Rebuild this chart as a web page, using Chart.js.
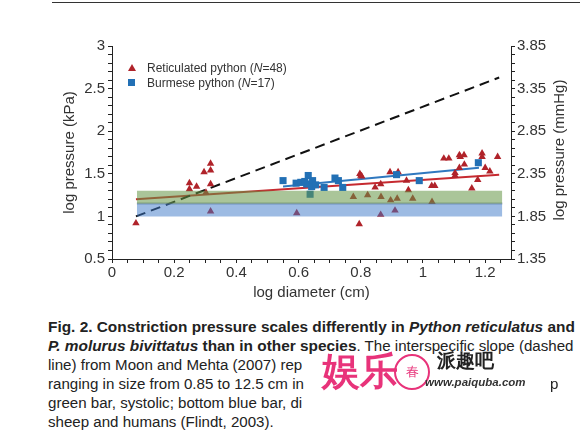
<!DOCTYPE html>
<html>
<head>
<meta charset="utf-8">
<script src="https://cdn.jsdelivr.net/npm/chart.js@4.4.0/dist/chart.umd.min.js"></script>
<style>
  html, body { margin: 0; padding: 0; background: #fff; }
  body { width: 580px; height: 431px; position: relative; overflow: hidden;
         font-family: "Liberation Sans", Arial, sans-serif; color: #222; }
  #topline { position: absolute; left: 52px; right: 0; top: 2px; height: 1px; background: #333; }
  #chart { position: absolute; left: 0; top: 0; }
  .legend { position: absolute; left: 128px; font-size: 12px; color: #333; white-space: nowrap; }
  .legend .mk { position: absolute; left: 0; }
  .legend .tx { position: absolute; left: 19px; top: -7px; }
  .tri { width: 0; height: 0; border-left: 4px solid transparent; border-right: 4px solid transparent;
         border-bottom: 7px solid #b0232a; top: -4px; }
  .sq { width: 7px; height: 7px; background: #2270b5; top: -4px; }
  #ytitle2 { position: absolute; left: 558px; top: 150px; font-size: 15px; color: #333; white-space: nowrap;
             transform: translate(-50%, -50%) rotate(-90deg); }
  #caption { position: absolute; left: 48px; top: 317px; font-size: 15.1px; line-height: 19px;
             white-space: nowrap; color: #222; }
  #caption b { font-size: 15.4px; }
  #wm { position: absolute; left: 320px; top: 350px; width: 250px; height: 60px; }
</style>
</head>
<body>
<div id="topline"></div>
<canvas id="chart" width="580" height="305"></canvas>

<div class="legend" style="top:68px"><div class="mk tri"></div><span class="tx">Reticulated python (<i>N</i>=48)</span></div>
<div class="legend" style="top:83px"><div class="mk sq"></div><span class="tx">Burmese python (<i>N</i>=17)</span></div>
<div id="ytitle2">log pressure (mmHg)</div>

<div id="caption">
<b>Fig. 2. Constriction pressure scales differently in <i>Python reticulatus</i> and</b><br>
<b><i>P. molurus bivittatus</i> than in other species</b>. The interspecific slope (dashed<br>
line) from Moon and Mehta (2007) rep<br>
ranging in size from 0.85 to 12.5 cm in<span style="position:absolute;left:502px">p</span><br>
green bar, systolic; bottom blue bar, di<br>
sheep and humans (Flindt, 2003).
</div>

<div id="wm">
  <span style="position:absolute;left:2px;top:-4px;font-size:38px;color:#e8337a;font-weight:bold;">娱乐</span>
  <span style="position:absolute;left:74px;top:4px;width:32px;height:32px;border:2px solid #e8337a;border-radius:50%;
               font-size:13px;color:#e8337a;text-align:center;line-height:32px;">春</span>
  <span style="position:absolute;left:117px;top:-2px;font-size:19px;font-weight:bold;color:#222;">派趣吧</span>
  <span style="position:absolute;left:105px;top:26px;font-size:11.5px;font-weight:bold;font-style:italic;color:#333;">www.paiquba.com</span>
</div>

<script>
(function () {
  'use strict';

  // reticulated python (red triangles)
  var redX = [0.077, 0.249, 0.249, 0.272, 0.296, 0.317, 0.317, 0.317, 0.302, 0.317, 0.594, 0.795,
              0.797, 0.803, 0.776, 0.822, 0.865, 0.846, 0.864, 0.864, 0.894, 0.896, 0.91, 0.917,
              0.92, 0.947, 0.953, 0.967, 1.028, 1.038, 1.029, 1.067, 1.083, 1.103, 1.103, 1.117,
              1.132, 1.117, 1.133, 1.157, 1.176, 1.19, 1.19, 1.2, 1.215, 1.24, 0.8, 1.12];
  var redY = [0.92, 1.39, 1.32, 1.35, 1.52, 1.54, 1.62, 1.38, 1.28, 1.06, 1.04, 0.91,
              1.5, 1.47, 1.23, 1.25, 1.23, 1.34, 1.38, 1.02, 1.52, 1.19, 1.07, 1.21,
              1.52, 1.42, 1.31, 1.21, 1.36, 1.36, 1.17, 1.68, 1.68, 1.51, 1.48, 1.72,
              1.72, 1.57, 1.61, 1.33, 1.43, 1.74, 1.7, 1.57, 1.53, 1.7, 1.48, 1.7];

  // burmese python (blue squares)
  var blueX = [0.55, 0.592, 0.607, 0.631, 0.626, 0.645, 0.642, 0.637, 0.682, 0.717, 0.728, 0.742,
               0.915, 0.988, 1.178, 0.62, 0.655];
  var blueY = [1.42, 1.39, 1.4, 1.48, 1.38, 1.42, 1.35, 1.26, 1.34, 1.45, 1.42, 1.34,
               1.49, 1.42, 1.63, 1.41, 1.37];

  // fitted lines and interspecific slope
  var redFitX = [0.077, 1.245];
  var redFitY = [1.2, 1.49];
  var blueFitX = [0.55, 1.18];
  var blueFitY = [1.35, 1.57];
  var slopeX = [0.077, 1.245];
  var slopeY = [1.0, 2.63];

  // mammal blood pressure bars
  var barX = [0.08, 1.255];
  var systolic = [1.15, 1.3];
  var diastolic = [1.0, 1.15];

  // tick labels
  var xTicks = [0, 0.2, 0.4, 0.6, 0.8, 1, 1.2];
  var kpaTicks = [0.5, 1, 1.5, 2, 2.5, 3];
  var mmhgTicks = [1.35, 1.85, 2.35, 2.85, 3.35, 3.85];

  function pts(xs, ys) {
    return xs.map(function (x, i) { return { x: x, y: ys[i] }; });
  }

  function withMinor(step, lo, hi) {
    var out = [];
    for (var v = lo; v <= hi + 1e-9; v += step) {
      out.push({ value: Math.round(v * 1000) / 1000 });
    }
    return out;
  }

  function isMajor(list, v) {
    return list.some(function (m) { return Math.abs(m - v) < 1e-6; });
  }

  var tickFont = { family: '"Liberation Sans", Arial, sans-serif', size: 15 };
  var axisColor = '#222';

  var ctx = document.getElementById('chart').getContext('2d');
  new Chart(ctx, {
    type: 'scatter',
    data: {
      datasets: [
        {
          label: 'systolic',
          data: pts(barX, [systolic[1], systolic[1]]),
          showLine: true,
          borderWidth: 0,
          pointRadius: 0,
          backgroundColor: 'rgba(100, 150, 70, 0.55)',
          fill: { value: systolic[0] },
        },
        {
          label: 'diastolic',
          data: pts(barX, [diastolic[1], diastolic[1]]),
          showLine: true,
          borderWidth: 0,
          pointRadius: 0,
          backgroundColor: 'rgba(60, 120, 200, 0.5)',
          fill: { value: diastolic[0] },
        },
        {
          label: 'edge',
          data: pts(barX, [systolic[0], systolic[0]]),
          showLine: true,
          borderWidth: 2,
          borderColor: 'rgba(90, 110, 125, 0.55)',
          pointRadius: 0,
          fill: false,
        },
        {
          label: 'Burmese',
          data: pts(blueX, blueY),
          pointStyle: 'rect',
          pointRadius: 5,
          backgroundColor: '#2270b5',
          borderColor: '#2270b5',
          borderWidth: 0,
        },
        {
          label: 'Reticulated',
          data: pts(redX, redY),
          pointStyle: 'triangle',
          pointRadius: 4.3,
          backgroundColor: '#b0232a',
          borderColor: '#b0232a',
          borderWidth: 0,
        },
        {
          label: 'slope',
          data: pts(slopeX, slopeY),
          showLine: true,
          borderColor: '#111',
          borderWidth: 2,
          borderDash: [10, 6],
          pointRadius: 0,
        },
        {
          label: 'blue fit',
          data: pts(blueFitX, blueFitY),
          showLine: true,
          borderColor: '#2f78bf',
          borderWidth: 2,
          pointRadius: 0,
        },
        {
          label: 'red fit',
          data: pts(redFitX, redFitY),
          showLine: true,
          borderColor: '#c62a30',
          borderWidth: 2,
          pointRadius: 0,
        },
      ],
    },
    options: {
      responsive: false,
      animation: false,
      events: [],
      layout: { padding: { left: 0, right: 0, top: 46, bottom: 0 } },
      plugins: {
        legend: { display: false },
        tooltip: { enabled: false },
      },
      scales: {
        x: {
          type: 'linear',
          min: 0,
          max: 1.283,
          afterBuildTicks: function (s) { s.ticks = withMinor(0.05, 0, 1.25); },
          afterFit: function (s) { s.height = 46; },
          border: { color: axisColor, width: 1 },
          grid: { drawOnChartArea: false, drawTicks: true, tickLength: 4, color: axisColor },
          ticks: {
            autoSkip: false,
            maxRotation: 0,
            padding: 1,
            color: '#333',
            font: tickFont,
            callback: function (v) { return isMajor(xTicks, v) ? String(v) : ''; },
          },
          title: {
            display: true,
            text: 'log diameter (cm)',
            color: '#333',
            font: tickFont,
            padding: { top: 0, bottom: 3 },
          },
        },
        y: {
          position: 'left',
          min: 0.5,
          max: 3,
          afterBuildTicks: function (s) { s.ticks = withMinor(0.1, 0.5, 3); },
          afterFit: function (s) { s.width = 112; },
          border: { color: axisColor, width: 1 },
          grid: { drawOnChartArea: false, drawTicks: true, tickLength: 4, color: axisColor },
          ticks: {
            autoSkip: false,
            padding: 3,
            color: '#333',
            font: tickFont,
            callback: function (v) { return isMajor(kpaTicks, v) ? String(v) : ''; },
          },
          title: {
            display: true,
            text: 'log pressure (kPa)',
            color: '#333',
            font: tickFont,
            padding: { top: 61, bottom: 0 },
          },
        },
        y2: {
          position: 'right',
          min: 1.35,
          max: 3.85,
          afterBuildTicks: function (s) { s.ticks = withMinor(0.1, 1.35, 3.85); },
          afterFit: function (s) { s.width = 69; },
          border: { color: axisColor, width: 1 },
          grid: { drawOnChartArea: false, drawTicks: true, tickLength: 4, color: axisColor },
          ticks: {
            autoSkip: false,
            padding: 2,
            color: '#333',
            font: tickFont,
            callback: function (v) { return isMajor(mmhgTicks, v) ? v.toFixed(2) : ''; },
          },
        },
      },
    },
  });
})();
</script>
</body>
</html>
